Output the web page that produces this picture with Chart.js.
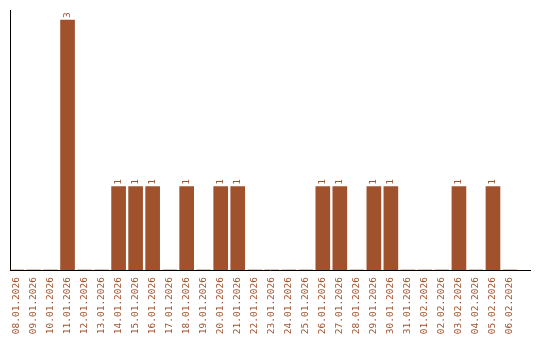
<!DOCTYPE html>
<html><head><meta charset="utf-8">
<script src="https://cdn.jsdelivr.net/npm/chart.js@4"></script>
<style>html,body{margin:0;padding:0;background:#fff}#wrap{width:540px;height:340px}</style>
</head><body><div id="wrap"><canvas id="c" width="540" height="340"></canvas></div>
<script>
const dates = ["08.01.2026","09.01.2026","10.01.2026","11.01.2026","12.01.2026","13.01.2026","14.01.2026","15.01.2026","16.01.2026","17.01.2026","18.01.2026","19.01.2026","20.01.2026","21.01.2026","22.01.2026","23.01.2026","24.01.2026","25.01.2026","26.01.2026","27.01.2026","28.01.2026","29.01.2026","30.01.2026","31.01.2026","01.02.2026","02.02.2026","03.02.2026","04.02.2026","05.02.2026","06.02.2026"];
const counts = [0,0,0,3,0,0,1,1,1,0,1,0,1,1,0,0,0,0,1,1,0,1,1,0,0,0,1,0,1,0];
const BROWN = '#A0522D';
const FONT = '"DejaVu Sans Mono", monospace';

const valueLabels = {
  id: 'valueLabels',
  afterDatasetsDraw(chart) {
    const ctx = chart.ctx;
    const meta = chart.getDatasetMeta(0);
    ctx.save();
    ctx.fillStyle = BROWN;
    ctx.font = '9.5px ' + FONT;
    ctx.textAlign = 'left';
    ctx.textBaseline = 'middle';
    meta.data.forEach((bar, i) => {
      if (!counts[i]) return;
      ctx.save();
      ctx.translate(bar.x, bar.y - 2);
      ctx.rotate(-Math.PI / 2);
      ctx.fillText(String(counts[i]), 0, 0);
      ctx.restore();
    });
    ctx.restore();
  }
};

new Chart(document.getElementById('c'), {
  type: 'bar',
  data: {
    datasets: [{
      data: counts.map((v, i) => ({x: i, y: v})),
      backgroundColor: BROWN,
      borderWidth: 0,
      barThickness: 14
    }]
  },
  options: {
    responsive: false,
    animation: false,
    events: [],
    layout: {padding: {left: 10, right: 10, top: 10, bottom: 3}},
    plugins: {legend: {display: false}, tooltip: {enabled: false}},
    scales: {
      x: {
        type: 'linear',
        offset: false,
        min: -0.382,
        max: 30.176,
        afterBuildTicks: (s) => { s.ticks = dates.map((d, i) => ({value: i})); },
        afterFit: (s) => { s.paddingLeft = 0; s.paddingRight = 0; s.height = 67; },
        grid: {display: false, drawTicks: false, offset: false},
        border: {display: true, color: '#000', width: 1},
        ticks: {
          autoSkip: false,
          minRotation: 90,
          maxRotation: 90,
          padding: 7,
          color: BROWN,
          font: {family: FONT, size: 9.5},
          callback: (v) => dates[v]
        }
      },
      y: {
        min: 0,
        max: 3.12,
        afterFit: (s) => { s.paddingTop = 0; s.paddingBottom = 0; },
        grid: {display: false, drawTicks: false},
        border: {display: true, color: '#000', width: 1},
        ticks: {display: false}
      }
    }
  },
  plugins: [valueLabels]
});
</script>
</body></html>
